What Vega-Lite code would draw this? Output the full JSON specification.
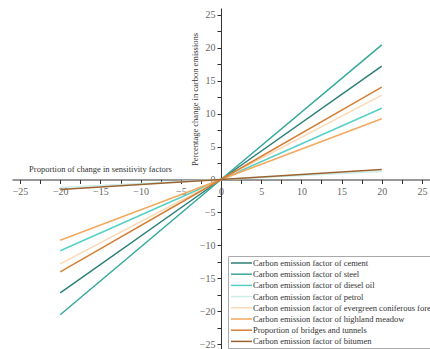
{
  "$schema": "https://vega.github.io/schema/vega-lite/v6.json",
  "autosize": "none",
  "width": 418,
  "height": 343,
  "padding": {"left": 12, "top": 8, "right": 0, "bottom": 0},
  "background": "white",
  "config": {
    "view": {"stroke": null},
    "font": "Liberation Serif"
  },
  "data": {
    "values": [
      {"factor": "Carbon emission factor of cement", "x": -20, "y": -17.2},
      {"factor": "Carbon emission factor of cement", "x": 0, "y": 0},
      {"factor": "Carbon emission factor of cement", "x": 20, "y": 17.2},
      {"factor": "Carbon emission factor of steel", "x": -20, "y": -20.5},
      {"factor": "Carbon emission factor of steel", "x": 0, "y": 0},
      {"factor": "Carbon emission factor of steel", "x": 20, "y": 20.4},
      {"factor": "Carbon emission factor of diesel oil", "x": -20, "y": -10.8},
      {"factor": "Carbon emission factor of diesel oil", "x": 0, "y": 0},
      {"factor": "Carbon emission factor of diesel oil", "x": 20, "y": 10.8},
      {"factor": "Carbon emission factor of petrol", "x": -20, "y": -1.2},
      {"factor": "Carbon emission factor of petrol", "x": 0, "y": 0},
      {"factor": "Carbon emission factor of petrol", "x": 20, "y": 1.2},
      {"factor": "Carbon emission factor of evergreen coniferous forest", "x": -20, "y": -12.8},
      {"factor": "Carbon emission factor of evergreen coniferous forest", "x": 0, "y": 0},
      {"factor": "Carbon emission factor of evergreen coniferous forest", "x": 20, "y": 12.8},
      {"factor": "Carbon emission factor of highland meadow", "x": -20, "y": -9.2},
      {"factor": "Carbon emission factor of highland meadow", "x": 0, "y": 0},
      {"factor": "Carbon emission factor of highland meadow", "x": 20, "y": 9.2},
      {"factor": "Proportion of bridges and tunnels", "x": -20, "y": -14.0},
      {"factor": "Proportion of bridges and tunnels", "x": 0, "y": 0},
      {"factor": "Proportion of bridges and tunnels", "x": 20, "y": 14.0},
      {"factor": "Carbon emission factor of bitumen", "x": -20, "y": -1.5},
      {"factor": "Carbon emission factor of bitumen", "x": 0, "y": 0},
      {"factor": "Carbon emission factor of bitumen", "x": 20, "y": 1.5}
    ]
  },
  "mark": {"type": "line", "strokeWidth": 1.5, "clip": false},
  "encoding": {
    "x": {
      "field": "x",
      "type": "quantitative",
      "scale": {"domain": [-26, 26], "nice": false, "zero": false},
      "axis": {
        "orient": "bottom",
        "offset": -171.5,
        "values": [-25, -22.5, -20, -17.5, -15, -12.5, -10, -7.5, -5, -2.5, 0, 2.5, 5, 7.5, 10, 12.5, 15, 17.5, 20, 22.5, 25],
        "labelExpr": "datum.value % 5 == 0 ? datum.label : ''",
        "grid": false,
        "domainColor": "#333333",
        "tickColor": "#333333",
        "tickSize": 4,
        "labelColor": "#666666",
        "labelFontSize": 10,
        "labelFont": "Liberation Serif",
        "labelPadding": 3,
        "title": "Proportion of change in sensitivity factors",
        "titleFont": "Liberation Serif",
        "titleFontSize": 8.5,
        "titleFontWeight": "normal",
        "titleColor": "#333333",
        "titleX": 88,
        "titleY": -11,
        "titleAlign": "center",
        "titleBaseline": "middle"
      }
    },
    "y": {
      "field": "y",
      "type": "quantitative",
      "scale": {"domain": [-26, 26], "nice": false, "zero": false},
      "axis": {
        "orient": "left",
        "offset": -209,
        "values": [-25, -22.5, -20, -17.5, -15, -12.5, -10, -7.5, -5, -2.5, 0, 2.5, 5, 7.5, 10, 12.5, 15, 17.5, 20, 22.5, 25],
        "labelExpr": "datum.value % 5 == 0 ? datum.label : ''",
        "grid": false,
        "domainColor": "#333333",
        "tickColor": "#333333",
        "tickSize": 4,
        "labelColor": "#666666",
        "labelFontSize": 10,
        "labelFont": "Liberation Serif",
        "title": "Percentage change in carbon emissions",
        "titleFont": "Liberation Serif",
        "titleFontSize": 8.5,
        "titleFontWeight": "normal",
        "titleColor": "#333333",
        "titleX": -27,
        "titleY": 91,
        "titleAngle": -90,
        "titleAlign": "center",
        "titleBaseline": "middle"
      }
    },
    "color": {
      "field": "factor",
      "type": "nominal",
      "scale": {
        "domain": [
          "Carbon emission factor of cement",
          "Carbon emission factor of steel",
          "Carbon emission factor of diesel oil",
          "Carbon emission factor of petrol",
          "Carbon emission factor of evergreen coniferous forest",
          "Carbon emission factor of highland meadow",
          "Proportion of bridges and tunnels",
          "Carbon emission factor of bitumen"
        ],
        "range": ["#2b8077", "#35a99d", "#56d0c6", "#cdeeea", "#fcd9b6", "#f3a85e", "#d67f35", "#9a6330"]
      },
      "legend": {
        "orient": "none",
        "legendX": 216,
        "legendY": 248,
        "title": null,
        "fillColor": "white",
        "strokeColor": "#aaaaaa",
        "padding": 2,
        "symbolType": "M-1.5,0H3.75",
        "symbolSize": 64,
        "symbolStrokeWidth": 1.5,
        "symbolOffset": 2,
        "labelOffset": 11,
        "rowPadding": 1.2,
        "labelFont": "Liberation Serif",
        "labelFontSize": 8.5,
        "labelColor": "#333333",
        "labelLimit": 400
      }
    }
  }
}
